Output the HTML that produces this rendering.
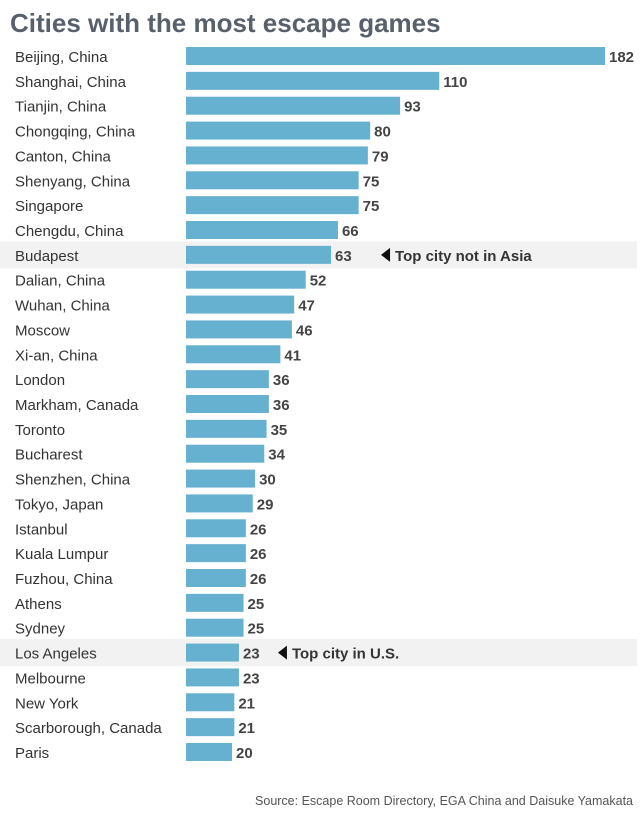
<!DOCTYPE html>
<html><head><meta charset="utf-8"><style>
body{margin:0;background:#fff;font-family:"Liberation Sans",sans-serif}
svg{display:block}
</style></head><body>
<svg id="c" width="640" height="813">
<text x="10" y="32" font-size="26" font-weight="bold" fill="#58606b">Cities with the most escape games</text>
<text x="633" y="805" font-size="12.5" text-anchor="end" fill="#555">Source: Escape Room Directory, EGA China and Daisuke Yamakata</text>
</svg>
<script>
const cities=["Beijing, China","Shanghai, China","Tianjin, China","Chongqing, China","Canton, China","Shenyang, China","Singapore","Chengdu, China","Budapest","Dalian, China","Wuhan, China","Moscow","Xi-an, China","London","Markham, Canada","Toronto","Bucharest","Shenzhen, China","Tokyo, Japan","Istanbul","Kuala Lumpur","Fuzhou, China","Athens","Sydney","Los Angeles","Melbourne","New York","Scarborough, Canada","Paris"];
const counts=[182,110,93,80,79,75,75,66,63,52,47,46,41,36,36,35,34,30,29,26,26,26,25,25,23,23,21,21,20];
const highlightCity=["Budapest","Los Angeles"];
const highlightNote=["Top city not in Asia","Top city in U.S."];
const svg=document.getElementById('c');const NS='http://www.w3.org/2000/svg';
const x0=186,scale=(605-186)/182,y0=56,pitch=(752-56)/28,bh=18;
const arrowGap=[50,39];
const xs=v=>x0+v*scale, ys=i=>y0+i*pitch;
function mk(t,a){const e=document.createElementNS(NS,t);for(const k in a)e.setAttribute(k,a[k]);svg.appendChild(e);return e;}
cities.forEach((c,i)=>{
 const y=ys(i);const h=highlightCity.indexOf(c);
 if(h>=0){const b=mk('rect',{x:0,y:y-13.5,width:637,height:27,fill:'#f2f2f2'});
  
  }
 const l=mk('text',{x:15,y:y+6,'font-size':15,fill:'#333'});l.textContent=c;
 
 
 const r=mk('rect',{x:x0,y:y-bh/2,width:xs(counts[i])-x0,height:bh,fill:'#67b1d0'});
 
 
 const v=mk('text',{x:xs(counts[i])+4,y:y+6,'font-size':15,'font-weight':'bold',fill:'#444'});v.textContent=counts[i];
 
 
 if(h>=0){const ax=xs(counts[i])+arrowGap[h]+9;
  const p=mk('polygon',{points:`${ax},${y-7} ${ax},${y+7} ${ax-9},${y}`,fill:'#111'});
  
  
  const n=mk('text',{x:ax+5,y:y+6,'font-size':15,'font-weight':'bold',fill:'#333'});n.textContent=highlightNote[h];
  
  }
});
</script>
</body></html>
